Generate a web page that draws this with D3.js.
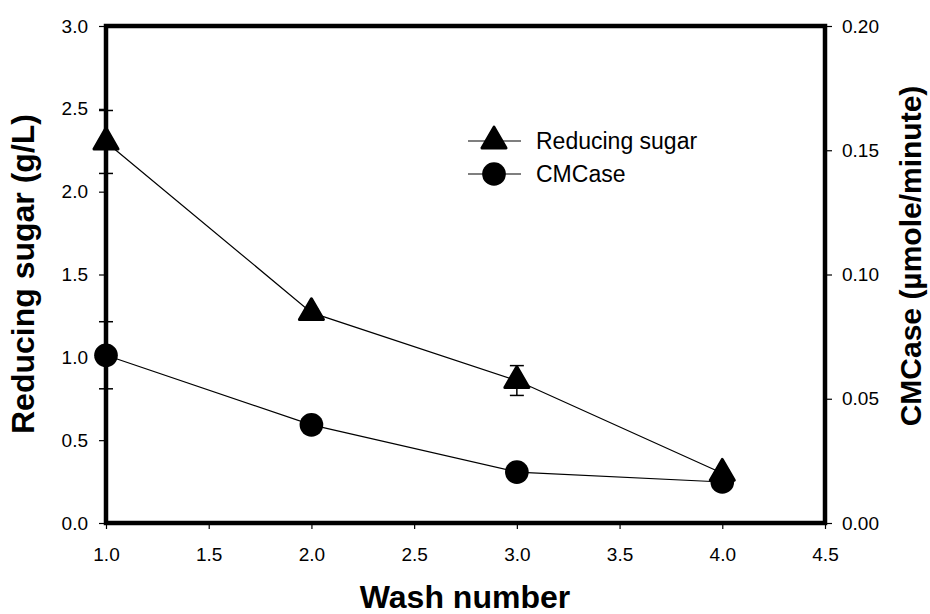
<!DOCTYPE html>
<html>
<head>
<meta charset="utf-8">
<script src="https://cdn.jsdelivr.net/npm/d3@7"></script>
<style>
  body { margin: 0; background: #fff; }
  text { font-family: "Liberation Sans", Arial, sans-serif; fill: #000; }
</style>
</head>
<body>
<svg id="chart" width="930" height="614"></svg>
<script>
// data
const washes = [1, 2, 3, 4];
const sugar = [2.30, 1.27, 0.86, 0.30];      // g/L, left axis
const sugarErr = [0.19, 0.02, 0.09, 0.02];
const cmcase = [0.0675, 0.0395, 0.0205, 0.0165]; // umole/minute, right axis
const cmcaseErr = [0.0135, 0.001, 0.001, 0.001];
const xTicks = [1.0, 1.5, 2.0, 2.5, 3.0, 3.5, 4.0, 4.5];
const yTicks = [0, 0.5, 1.0, 1.5, 2.0, 2.5, 3.0];
const y2Ticks = [0, 0.05, 0.10, 0.15, 0.20];

const svg = d3.select("#chart");
const mLeft = 106, mRight = 825, mTop = 26, mBottom = 523;

const x = d3.scaleLinear().domain([1, 4.5]).range([mLeft, mRight]);
const y = d3.scaleLinear().domain([0, 3]).range([mBottom, mTop]);
const y2 = d3.scaleLinear().domain([0, 0.2]).range([mBottom, mTop]);

// axes
const gx = svg.append("g").attr("transform", `translate(0,${mBottom})`)
  .call(d3.axisBottom(x).tickValues(xTicks).tickFormat(d3.format(".1f")).tickSize(6).tickPadding(19));
const gy = svg.append("g").attr("transform", `translate(${mLeft},0)`)
  .call(d3.axisLeft(y).tickValues(yTicks).tickFormat(d3.format(".1f")).tickSize(7).tickPadding(11));
const gy2 = svg.append("g").attr("transform", `translate(${mRight},0)`)
  .call(d3.axisRight(y2).tickValues(y2Ticks).tickFormat(d3.format(".2f")).tickSize(7).tickPadding(10));

[gx, gy, gy2].forEach(g => {
  g.select(".domain").remove();
  g.selectAll("line").attr("stroke", "#000").attr("stroke-width", 1.2);
  g.selectAll("text").style("font-size", "19px").attr("fill", "#000");
});

// frame
svg.append("rect")
  .attr("x", mLeft).attr("y", mTop)
  .attr("width", mRight - mLeft).attr("height", mBottom - mTop)
  .attr("fill", "none").attr("stroke", "#000").attr("stroke-width", 4.5);

const plot = svg.append("g");
const lineSugar = d3.line().x((d, i) => x(washes[i])).y(d => y(d));
const lineCm = d3.line().x((d, i) => x(washes[i])).y(d => y2(d));

plot.append("path").datum(sugar).attr("d", lineSugar)
  .attr("fill", "none").attr("stroke", "#000").attr("stroke-width", 1.2);
plot.append("path").datum(cmcase).attr("d", lineCm)
  .attr("fill", "none").attr("stroke", "#000").attr("stroke-width", 1.2);

// error bars
function errBars(vals, errs, sc) {
  const g = plot.append("g").attr("stroke", "#000").attr("stroke-width", 1.5);
  vals.forEach((v, i) => {
    const cx = x(washes[i]);
    const y0 = sc(v - errs[i]), y1 = sc(v + errs[i]);
    g.append("line").attr("x1", cx).attr("x2", cx).attr("y1", y0).attr("y2", y1);
    g.append("line").attr("x1", cx - 7).attr("x2", cx + 7).attr("y1", y0).attr("y2", y0);
    g.append("line").attr("x1", cx - 7).attr("x2", cx + 7).attr("y1", y1).attr("y2", y1);
  });
}
errBars(sugar, sugarErr, y);
errBars(cmcase, cmcaseErr, y2);

const tri = d3.symbol(d3.symbolTriangle, 250);
const circ = d3.symbol(d3.symbolCircle, 440);

plot.selectAll(".tri").data(sugar).join("path")
  .attr("d", tri)
  .attr("transform", (d, i) => `translate(${x(washes[i])},${y(d)})`)
  .attr("fill", "#000").attr("stroke", "#000").attr("stroke-width", 3).attr("stroke-linejoin", "round");
plot.selectAll(".circ").data(cmcase).join("path")
  .attr("d", circ)
  .attr("transform", (d, i) => `translate(${x(washes[i])},${y2(d)})`)
  .attr("fill", "#000");

// legend
const legend = svg.append("g");
const legItems = [
  { label: "Reducing sugar", sym: tri, y: 141, tri: true },
  { label: "CMCase", sym: circ, y: 174, tri: false }
];
legItems.forEach(it => {
  legend.append("line").attr("x1", 468).attr("x2", 521).attr("y1", it.y).attr("y2", it.y)
    .attr("stroke", "#000").attr("stroke-width", 1.2);
  legend.append("path").attr("d", it.sym).attr("transform", `translate(494,${it.y})`)
    .attr("fill", "#000").attr("stroke", "#000")
    .attr("stroke-width", it.tri ? 3 : 0).attr("stroke-linejoin", "round");
  legend.append("text").attr("x", 536).attr("y", it.y + 8).style("font-size", "23px").text(it.label);
});

// axis titles
svg.append("text").attr("x", 465).attr("y", 608).attr("text-anchor", "middle")
  .style("font-size", "32px").style("font-weight", "bold").text("Wash number");
svg.append("text").attr("transform", `translate(34,274) rotate(-90)`)
  .attr("text-anchor", "middle").style("font-size", "32px").style("font-weight", "bold")
  .text("Reducing sugar (g/L)");
svg.append("text").attr("transform", `translate(921,256) rotate(-90)`)
  .attr("text-anchor", "middle").style("font-size", "30px").style("font-weight", "bold")
  .text("CMCase (µmole/minute)");
</script>
</body>
</html>
